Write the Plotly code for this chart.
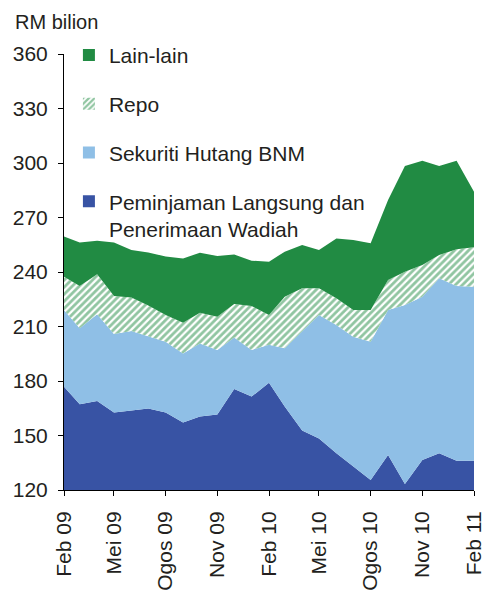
import plotly.graph_objects as go

months = ["2009-02-01", "2009-03-01", "2009-04-01", "2009-05-01", "2009-06-01", "2009-07-01",
          "2009-08-01", "2009-09-01", "2009-10-01", "2009-11-01", "2009-12-01", "2010-01-01",
          "2010-02-01", "2010-03-01", "2010-04-01", "2010-05-01", "2010-06-01", "2010-07-01",
          "2010-08-01", "2010-09-01", "2010-10-01", "2010-11-01", "2010-12-01", "2011-01-01",
          "2011-02-01"]

peminjaman = [176.9, 167.2, 169.0, 162.6, 163.7, 164.8, 162.6, 157.2, 160.4, 161.5, 175.6, 171.4,
              179.0, 165.9, 152.7, 148.3, 140.2, 132.8, 125.5, 139.3, 123.3, 136.5, 140.2, 136.1,
              136.1]
sekuriti = [42.2, 41.8, 47.7, 43.3, 43.8, 39.6, 39.0, 38.0, 40.3, 35.5, 28.4, 25.7,
            21.0, 32.1, 54.5, 68.0, 70.6, 71.6, 76.1, 79.8, 98.5, 89.9, 96.3, 96.2,
            95.8]
repo = [18.3, 23.3, 22.0, 20.9, 18.5, 17.1, 14.7, 16.9, 16.9, 18.4, 18.4, 24.2,
        16.3, 28.4, 23.8, 14.7, 14.7, 14.7, 17.5, 16.5, 18.4, 17.5, 12.9, 20.2,
        21.7]
lain = [22.1, 23.9, 18.5, 29.4, 26.1, 29.3, 32.2, 35.4, 33.0, 33.4, 27.3, 24.9,
        29.4, 24.8, 23.9, 21.1, 33.0, 38.5, 36.7, 44.0, 58.1, 57.4, 48.9, 48.8,
        30.6]

tick_vals = ["2009-02-01", "2009-05-01", "2009-08-01", "2009-11-01", "2010-02-01",
             "2010-05-01", "2010-08-01", "2010-11-01", "2011-02-01"]
tick_text = ["Feb 09", "Mei 09", "Ogos 09", "Nov 09", "Feb 10", "Mei 10", "Ogos 10",
             "Nov 10", "Feb 11"]

names = ["Peminjaman Langsung dan<br>Penerimaan Wadiah", "Sekuriti Hutang BNM", "Repo", "Lain-lain"]

GREEN = "#218B43"
LIGHT = "#8FBFE6"
DARK = "#3853A4"
TXT = "#231F20"
FONT = "Liberation Sans"

fig = go.Figure()

fig.add_trace(go.Scatter(x=months, y=peminjaman, stackgroup="s", mode="lines",
                         line=dict(width=0, color=DARK), fillcolor=DARK,
                         showlegend=False, hoverinfo="skip"))
fig.add_trace(go.Scatter(x=months, y=sekuriti, stackgroup="s", mode="lines",
                         line=dict(width=0, color=LIGHT), fillcolor=LIGHT,
                         showlegend=False, hoverinfo="skip"))
fig.add_trace(go.Scatter(x=months, y=repo, stackgroup="s", mode="lines",
                         line=dict(width=0, color=GREEN), fillcolor="white",
                         fillpattern=dict(shape="/", fgcolor=GREEN, bgcolor="white",
                                          size=5, solidity=0.55),
                         showlegend=False, hoverinfo="skip"))
fig.add_trace(go.Scatter(x=months, y=lain, stackgroup="s", mode="lines",
                         line=dict(width=0, color=GREEN), fillcolor=GREEN,
                         showlegend=False, hoverinfo="skip"))

# legend-only entries
legend_specs = [
    ("Lain-lain", dict(color=GREEN)),
    ("Repo", dict(color="white", pattern=dict(shape="/", fgcolor=GREEN, bgcolor="white",
                                              size=5, solidity=0.55))),
    ("Sekuriti Hutang BNM", dict(color=LIGHT)),
    (names[0], dict(color=DARK)),
]
for i, (nm, mk) in enumerate(legend_specs):
    fig.add_trace(go.Bar(x=[None], y=[None], name=nm, marker=dict(line=dict(width=0), **mk),
                         legendgroup=f"g{i}", showlegend=True, hoverinfo="skip"))

fig.update_layout(
    width=489, height=599,
    margin=dict(l=64, r=15, t=54, b=109, autoexpand=False),
    paper_bgcolor="white", plot_bgcolor="white",
    font=dict(family=FONT, size=21, color=TXT),
    showlegend=True,
    legend=dict(x=0.012, y=1.044, xanchor="left", yanchor="top",
                traceorder="grouped", tracegroupgap=18.5, valign="top",
                font=dict(family=FONT, size=21, color=TXT),
                bgcolor="rgba(0,0,0,0)"),
    xaxis=dict(range=["2009-02-01", "2011-02-01"], tickvals=tick_vals, ticktext=tick_text,
               tickangle=-90, ticks="outside", ticklen=5, tickcolor="black",
               showline=True, linecolor="black", linewidth=1, showgrid=False,
               zeroline=False, tickfont=dict(size=21, family=FONT, color=TXT),
               ticklabelstandoff=7, automargin=False),
    yaxis=dict(range=[120, 360], tickvals=[120, 150, 180, 210, 240, 270, 300, 330, 360],
               ticks="outside", ticklen=5, tickcolor="black",
               showline=True, linecolor="black", linewidth=1, showgrid=False,
               zeroline=False, tickfont=dict(size=21, family=FONT, color=TXT),
               ticklabelstandoff=6, automargin=False),
    annotations=[dict(text="RM bilion", xref="paper", yref="paper",
                      x=(13 - 64) / 410, y=(490 - 22) / 436, xanchor="left", yanchor="middle",
                      showarrow=False, font=dict(size=20, family=FONT, color=TXT))],
)

fig.write_html("out.html", config={"displayModeBar": False},
               post_script="document.body.style.margin='0px';")
